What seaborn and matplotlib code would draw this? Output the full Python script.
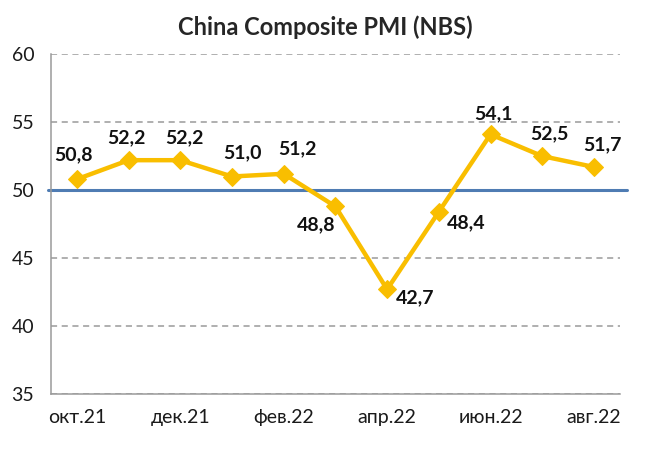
import pandas as pd
import seaborn as sns
import matplotlib
matplotlib.use("Agg")
import matplotlib.pyplot as plt

months = ['окт.21', 'ноя.21', 'дек.21', 'янв.22', 'фев.22', 'мар.22',
          'апр.22', 'май.22', 'июн.22', 'июл.22', 'авг.22']
pmi = [50.8, 52.2, 52.2, 51.0, 51.2, 48.8, 42.7, 48.4, 54.1, 52.5, 51.7]
threshold = 50
y_ticks = [35, 40, 45, 50, 55, 60]

# label offsets in pixels (dx, dy)
label_offsets = [(-3, 24), (-2, 22), (4, 22), (10, 24), (14, 25), (-19, -18),
                 (28, -8), (27, -11), (3, 21), (7, 22), (8, 22)]

GOLD = '#F9BE00'
BLUE = '#4F7CB3'


def main():
    sns.set_style("white")
    plt.rcParams['font.family'] = ['Lato', 'DejaVu Sans']

    df = pd.DataFrame({'x': range(len(months)), 'pmi': pmi})

    fig = plt.figure(figsize=(6.5, 4.55), dpi=100)
    ax = fig.add_axes([0.0785, 0.134, 0.875, 0.747])

    for y in y_ticks:
        ax.axhline(y, color='#9a9a9a', lw=1.1, ls=(0, (4, 3)), zorder=0)
    ax.axhline(threshold, xmin=-0.006, xmax=1.012, color=BLUE, lw=2.2,
               clip_on=False, zorder=1)

    sns.lineplot(data=df, x='x', y='pmi', ax=ax, color=GOLD, lw=3.2,
                 marker='D', markersize=9, markeredgecolor=GOLD, zorder=3)

    for i, v in enumerate(pmi):
        dx, dy = label_offsets[i]
        ax.annotate(f'{v:.1f}'.replace('.', ','), (i, v),
                    xytext=(dx * 0.72, dy * 0.72), textcoords='offset points',
                    ha='center', va='center', fontsize=14, fontweight='bold',
                    color='#111111')

    ax.set_xlim(-0.5, len(months) - 0.5)
    ax.set_ylim(35, 60)
    ax.set_yticks(y_ticks)
    ax.set_xticks(range(0, len(months), 2))
    ax.set_xticklabels(months[::2])
    ax.set_xticks([i - 0.5 for i in range(0, len(months) + 1, 2)], minor=True)
    ax.tick_params(axis='x', which='major', length=0, pad=11, labelsize=14,
                   labelcolor='#1a1a1a')
    ax.tick_params(axis='x', which='minor', length=5, color='#9a9a9a', width=1.1)
    ax.tick_params(axis='y', length=5, color='#9a9a9a', width=1.1, labelsize=14,
                   pad=7, labelcolor='#1a1a1a')
    ax.set_xlabel('')
    ax.set_ylabel('')

    for side in ['top', 'right']:
        ax.spines[side].set_visible(False)
    for side in ['left', 'bottom']:
        ax.spines[side].set_color('#9a9a9a')
        ax.spines[side].set_linewidth(1.1)

    fig.text(0.5, 0.94, 'China Composite PMI (NBS)', ha='center', va='center',
             fontsize=17, fontweight='bold')

    fig.savefig('out.png', dpi=100)


if __name__ == "__main__":
    main()
